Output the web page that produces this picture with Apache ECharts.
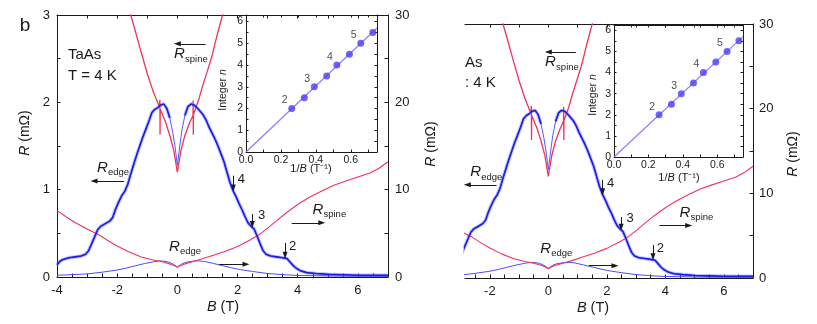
<!DOCTYPE html>
<html><head><meta charset="utf-8">
<script src="https://cdn.jsdelivr.net/npm/echarts@6/dist/echarts.min.js"></script>
<style>html,body{margin:0;padding:0;background:#fff}#c{width:817px;height:324px}</style>
</head><body><div id="c"></div>
<script>
// ---------- data ----------
// R_edge, left axis (mΩ): thick noisy blue curve
const edgeLeft = [[-4.0,0.14],[-3.9,0.18],[-3.8,0.2],[-3.6,0.22],[-3.4,0.23],[-3.2,0.24],[-3.05,0.26],[-2.95,0.3],[-2.85,0.38],[-2.75,0.46],[-2.65,0.54],[-2.55,0.58],[-2.45,0.6],[-2.35,0.62],[-2.25,0.64],[-2.15,0.68],[-2.05,0.78],[-1.95,0.86],[-1.85,0.93],[-1.75,0.98],[-1.65,1.06],[-1.55,1.18],[-1.45,1.29],[-1.35,1.4],[-1.25,1.5],[-1.15,1.6],[-1.05,1.69],[-0.95,1.78],[-0.85,1.88],[-0.75,1.92],[-0.65,1.94],[-0.55,1.97],[-0.45,1.98],[-0.35,1.93],[-0.25,1.82],[-0.15,1.65],[-0.08,1.5],[0,1.28],[0.08,1.5],[0.15,1.68],[0.25,1.85],[0.35,1.95],[0.45,1.98],[0.55,1.97],[0.65,1.94],[0.75,1.9],[0.85,1.86],[0.95,1.8],[1.05,1.72],[1.15,1.65],[1.25,1.58],[1.35,1.5],[1.45,1.41],[1.55,1.32],[1.65,1.2],[1.75,1.08],[1.85,0.99],[1.95,0.92],[2.05,0.84],[2.15,0.77],[2.25,0.69],[2.35,0.62],[2.45,0.58],[2.55,0.55],[2.65,0.47],[2.75,0.38],[2.85,0.3],[2.95,0.26],[3.1,0.24],[3.3,0.23],[3.5,0.22],[3.65,0.21],[3.75,0.17],[3.85,0.13],[3.95,0.1],[4.1,0.07],[4.3,0.05],[4.6,0.04],[5.0,0.03],[5.5,0.025],[6.0,0.02],[6.5,0.02],[7.0,0.02]];
// R_spine, left axis (mΩ): steep red V
const spineLeft = [[-1.75,3.3],[-1.55,3.0],[-1.4,2.82],[-1.2,2.57],[-1.0,2.33],[-0.8,2.12],[-0.6,1.95],[-0.585,1.93],[-0.58,2.03],[-0.575,1.63],[-0.57,1.92],[-0.4,1.78],[-0.25,1.62],[-0.12,1.45],[0,1.2],[0.12,1.45],[0.25,1.62],[0.4,1.76],[0.52,1.85],[0.525,2.02],[0.53,1.63],[0.535,1.86],[0.7,2.02],[0.85,2.2],[1.0,2.36],[1.15,2.53],[1.3,2.74],[1.5,3.0],[1.7,3.3]];
// R_spine, right axis (mΩ): lower red curve
const spineRight = [[-4.0,7.6],[-3.7,6.9],[-3.4,6.25],[-3.0,5.5],[-2.6,4.8],[-2.3,4.15],[-2.0,3.55],[-1.6,2.85],[-1.2,2.3],[-0.8,1.95],[-0.5,1.75],[-0.25,1.5],[-0.1,1.3],[0,1.1],[0.1,1.3],[0.25,1.5],[0.5,1.75],[0.8,2.05],[1.2,2.5],[1.6,2.95],[2.0,3.5],[2.4,4.2],[2.7,4.8],[3.0,5.6],[3.3,6.45],[3.6,7.3],[4.0,8.3],[4.4,9.15],[4.8,9.85],[5.2,10.5],[5.6,11.0],[6.0,11.45],[6.4,11.9],[6.7,12.45],[7.0,13.2]];
// R_edge, right axis (mΩ): thin blue curve
const edgeRight = [[-4.0,0.2],[-3.5,0.27],[-3.0,0.35],[-2.5,0.55],[-2.0,0.8],[-1.7,1.02],[-1.4,1.28],[-1.1,1.53],[-0.8,1.74],[-0.6,1.85],[-0.45,1.82],[-0.3,1.72],[-0.15,1.5],[0,1.15],[0.15,1.5],[0.3,1.7],[0.5,1.8],[0.7,1.85],[0.9,1.78],[1.2,1.55],[1.5,1.3],[1.8,1.05],[2.1,0.84],[2.5,0.63],[3.0,0.4],[3.5,0.27],[4.0,0.18],[5.0,0.12],[6.0,0.08],[7.0,0.06]];
// inset: (1/B, n)
const insetPoints = [[0.262,2],[0.334,2.5],[0.391,3],[0.462,3.5],[0.52,4],[0.592,4.5],[0.657,5],[0.726,5.5]];
const insetFit = [[0,0],[0.75,5.7]];
// ticks and tick labels
const xLabels = [-4,-2,0,2,4,6];
const xTicksBottom = [-4,-3.5,-3,-2.5,-2,-1.5,-1,-0.5,0,0.5,1,1.5,2,2.5,3,3.5,4,4.5,5,5.5,6,6.5,7];
const xTicksTop = [-4,-3,-2,-1,0,1,2,3,4,5,6,7];
const yLeftLabels = [0,1,2,3];
const yLeftTicks = [0,0.5,1,1.5,2,2.5,3];
const yRightLabels = [0,10,20,30];
const yRightTicks = [0,5,10,15,20,25,30];
const insetXLabels = [0,0.2,0.4,0.6];
const insetXTicks = [0,0.1,0.2,0.3,0.4,0.5,0.6,0.7];
const insetYLabels = [0,1,2,3,4,5,6];
const insetYTicks = [0,0.5,1,1.5,2,2.5,3,3.5,4,4.5,5,5.5,6];
// annotations (data coordinates, left axis units)
const arrows = [
  [[0.94,2.67],[0.0,2.67]],
  [[-1.77,1.1],[-2.77,1.1]],
  [[3.8,0.62],[4.8,0.62]],
  [[1.39,0.145],[2.28,0.145]],
  [[1.86,1.16],[1.86,1.02]],
  [[2.49,0.72],[2.49,0.6]],
  [[3.58,0.39],[3.58,0.25]]
];
const rLabels = [
  {B:-0.11,y:2.55,sub:'spine'},
  {B:-2.67,y:1.25,sub:'edge'},
  {B:4.49,y:0.77,sub:'spine'},
  {B:-0.28,y:0.35,sub:'edge'}
];
const nLabels = [{B:2.13,y:1.12,t:'4'},{B:2.8,y:0.7,t:'3'},{B:3.83,y:0.35,t:'2'}];

// ---------- layout ----------
const FONT = '"Liberation Sans", Arial, Helvetica, sans-serif';
const INK = '#1a1a1a';
const BLUE = '#1c1ce8', HALO = 'rgba(95,110,255,0.42)', RED = '#f2325c', THINBLUE = '#4a4cff';
const panels = [
  {grid:{left:57,top:15,width:331,height:262}, xMin:-4, xMax:7, leftAxis:true,
   inset:{left:246,top:15,width:131,height:137}, insetYMax:6.3},
  {grid:{left:465,top:24,width:288,height:254}, xMin:-2.85, xMax:7, leftAxis:false,
   inset:{left:614,top:25,width:129,height:132}, insetYMax:6.25}
];

function axisBase(extra){
  return Object.assign({
    type:'value', splitLine:{show:false},
    axisLine:{show:true,onZero:false,lineStyle:{color:INK,width:1}},
    axisTick:{show:true,inside:true,length:3.5,lineStyle:{color:INK,width:1}},
    axisLabel:{show:true,color:INK,fontFamily:FONT,fontSize:13}
  }, extra);
}
const grids=[], xAxes=[], yAxes=[], series=[];
panels.forEach((P,p)=>{
  grids.push(Object.assign({containLabel:false,show:false}, P.grid));
  const inR = (v)=>v>=P.xMin-1e-9 && v<=P.xMax+1e-9;
  xAxes.push(axisBase({gridIndex:p,min:P.xMin,max:P.xMax,position:'bottom',
    axisTick:{show:true,inside:true,length:3.5,lineStyle:{color:INK},customValues:xTicksBottom.filter(inR)},
    axisLabel:{show:true,color:INK,fontFamily:FONT,fontSize:13,margin:7,customValues:xLabels.filter(inR)}}));
  xAxes.push(axisBase({gridIndex:p,min:P.xMin,max:P.xMax,position:'top',
    axisTick:{show:true,inside:true,length:3.5,lineStyle:{color:INK},customValues:xTicksTop.filter(inR)},
    axisLabel:{show:false}}));
  yAxes.push(axisBase({gridIndex:p,min:0,max:3,position:'left',
    axisLine:{show:P.leftAxis,onZero:false,lineStyle:{color:INK}},
    axisTick:{show:P.leftAxis,inside:true,length:3.5,lineStyle:{color:INK},customValues:yLeftTicks},
    axisLabel:{show:P.leftAxis,color:INK,fontFamily:FONT,fontSize:13,margin:7,customValues:yLeftLabels}}));
  yAxes.push(axisBase({gridIndex:p,min:0,max:30,position:'right',
    axisTick:{show:true,inside:true,length:3.5,lineStyle:{color:INK},customValues:yRightTicks},
    axisLabel:{show:true,color:INK,fontFamily:FONT,fontSize:13,margin:p===0?7:6,customValues:yRightLabels}}));
});
panels.forEach((P,p)=>{
  const gi = 2+p;
  grids.push(Object.assign({containLabel:false,show:true,backgroundColor:'#fff',borderWidth:0}, P.inset));
  const fs = 10.5;
  xAxes.push(axisBase({gridIndex:gi,min:0,max:0.75,position:'bottom',
    axisTick:{show:true,inside:true,length:2.5,lineStyle:{color:INK},customValues:insetXTicks},
    axisLabel:{show:true,color:INK,fontFamily:FONT,fontSize:fs,margin:3,customValues:insetXLabels,formatter:v=>v.toFixed(1)}}));
  xAxes.push(axisBase({gridIndex:gi,min:0,max:0.75,position:'top',
    axisTick:{show:true,inside:true,length:2.5,lineStyle:{color:INK},customValues:insetXTicks},
    axisLabel:{show:false}}));
  yAxes.push(axisBase({gridIndex:gi,min:0,max:P.insetYMax,position:'left',
    axisTick:{show:true,inside:true,length:2.5,lineStyle:{color:INK},customValues:insetYTicks},
    axisLabel:{show:true,color:INK,fontFamily:FONT,fontSize:fs,margin:3,customValues:insetYLabels}}));
  yAxes.push(axisBase({gridIndex:gi,min:0,max:P.insetYMax,position:'right',
    axisTick:{show:true,inside:true,length:2.5,lineStyle:{color:INK},customValues:insetYTicks},
    axisLabel:{show:false}}));
});

// thick part of the blue trace leaves out the thin central dip
const edgeLeftOuter = edgeLeft.map(d=>Math.abs(d[0])<0.2?[d[0],null]:d);

panels.forEach((P,p)=>{
  const xi=2*p, yl=2*p, yr=2*p+1;
  const common = {type:'line',xAxisIndex:xi,symbol:'none',showSymbol:false,smooth:false,clip:true,animation:false,silent:true,connectNulls:false};
  series.push(Object.assign({},common,{yAxisIndex:yl,data:edgeLeftOuter,lineStyle:{width:3.6,color:HALO},z:2}));
  series.push(Object.assign({},common,{yAxisIndex:yr,data:edgeRight,lineStyle:{width:1,color:THINBLUE},z:3}));
  series.push(Object.assign({},common,{yAxisIndex:yr,data:spineRight,lineStyle:{width:1.1,color:RED},z:3}));
  series.push(Object.assign({},common,{yAxisIndex:yl,data:spineLeft,lineStyle:{width:1.3,color:RED},z:3}));
  series.push(Object.assign({},common,{yAxisIndex:yl,data:edgeLeft,lineStyle:{width:1,color:'#5858ff'},z:3}));
  series.push(Object.assign({},common,{yAxisIndex:yl,data:edgeLeftOuter,lineStyle:{width:1.6,color:BLUE},z:4,
    markLine:{silent:true,animation:false,symbol:['none','triangle'],symbolSize:[5,7],
      label:{show:false},lineStyle:{color:INK,width:1,type:'solid'},emphasis:{disabled:true},
      data:arrows.map(a=>[{coord:a[0]},{coord:a[1]}])}}));
  const ix=4+2*p, iy=4+2*p;
  series.push({type:'line',xAxisIndex:ix,yAxisIndex:iy,data:insetFit,symbol:'none',lineStyle:{width:1.2,color:'#8a7dff'},animation:false,silent:true,z:5});
  series.push({type:'scatter',xAxisIndex:ix,yAxisIndex:iy,data:insetPoints,symbolSize:7,itemStyle:{color:'#4b3df5'},animation:false,silent:true,z:6,
    label:{show:true,position:'inside',offset:[-7,-8],color:INK,fontFamily:FONT,fontSize:10.5,
      formatter:d=>Number.isInteger(d.value[1])?String(d.value[1]):''}});
});

const chart = echarts.init(document.getElementById('c'));
chart.setOption({backgroundColor:'#fff',animation:false,grid:grids,xAxis:xAxes,yAxis:yAxes,series:series});

// ---------- text annotations ----------
function T(x,y,text,size,o){
  o=o||{};
  return {type:'text',x:x,y:y,rotation:o.rot||0,z:50,silent:true,
    style:{text:text,fontSize:size,fontFamily:FONT,fill:INK,align:o.align||'center',verticalAlign:'middle',
      fontStyle:o.italic?'italic':'normal',rich:o.rich}};
}
const richR = (s)=>({i:{fontStyle:'italic',fontSize:s,fontFamily:FONT,fill:INK}});
const g=[];
g.push(T(25,26,'b',19));
g.push(T(68,55,'TaAs',15,{align:'left'}));
g.push(T(68,76,'T = 4 K',15,{align:'left'}));
g.push(T(25,133,'{i|R} (mΩ)',14,{rot:Math.PI/2,rich:richR(14)}));
g.push(T(431,144,'{i|R} (mΩ)',14,{rot:Math.PI/2,rich:richR(14)}));
g.push(T(223,307,'{i|B} (T)',14.5,{rich:richR(14.5)}));
g.push(T(223,90,'Integer {i|n}',10.5,{rot:Math.PI/2,rich:richR(10.5)}));
g.push(T(311,169,'1/{i|B} (T⁻¹)',11,{rich:richR(11)}));
g.push(T(465,63,'As',15,{align:'left'}));
g.push(T(465,83,': 4 K',15,{align:'left'}));
g.push(T(793,154,'{i|R} (mΩ)',14,{rot:Math.PI/2,rich:richR(14)}));
g.push(T(593,308,'{i|B} (T)',14.5,{rich:richR(14.5)}));
g.push(T(593,95,'Integer {i|n}',10.5,{rot:Math.PI/2,rich:richR(10.5)}));
g.push(T(679,178,'1/{i|B} (T⁻¹)',11,{rich:richR(11)}));
panels.forEach((P,p)=>{
  const px = (B,y)=>chart.convertToPixel({xAxisIndex:2*p,yAxisIndex:2*p},[B,y]);
  rLabels.forEach(L=>{
    const q=px(L.B,L.y);
    g.push(T(q[0],q[1],'R',15,{align:'left',italic:true}));
    g.push(T(q[0]+11,q[1]+5,L.sub,9.5,{align:'left'}));
  });
  nLabels.forEach(L=>{
    const q=px(L.B,L.y);
    g.push(T(q[0],q[1],L.t,13));
  });
});
chart.setOption({graphic:g});
</script></body></html>
